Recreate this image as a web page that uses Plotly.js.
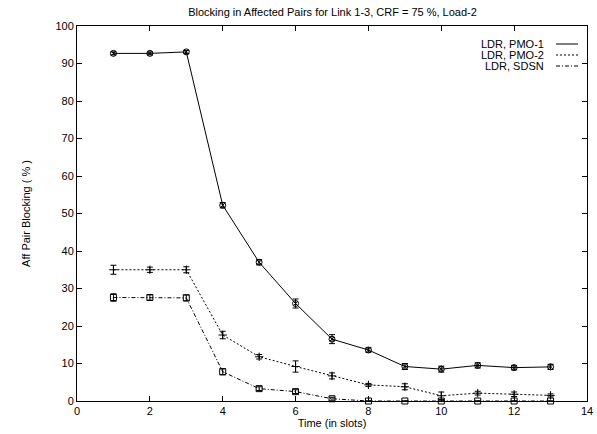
<!DOCTYPE html>
<html>
<head>
<meta charset="utf-8">
<script src="https://cdn.plot.ly/plotly-3.0.1.min.js"></script>
<style>html,body{margin:0;padding:0;background:#fff;}#chart{width:597px;height:434px;}</style>
</head>
<body>
<div id="chart"></div>
<script>
const time = [1,2,3,4,5,6,7,8,9,10,11,12,13];
const seriesNames = ["LDR, PMO-1", "LDR, PMO-2", "LDR, SDSN"];
const pmo1 = [92.7, 92.7, 93.1, 52.2, 37.0, 26.0, 16.5, 13.6, 9.2, 8.5, 9.5, 8.9, 9.1];
const pmo1Err = [0.4, 0.4, 0.4, 0.7, 0.7, 1.2, 1.2, 0.6, 0.8, 0.8, 0.7, 0.6, 0.7];
const pmo2 = [35.0, 35.0, 35.0, 17.6, 11.8, 9.2, 6.7, 4.3, 3.8, 1.4, 2.1, 1.8, 1.5];
const pmo2Err = [1.2, 0.7, 0.8, 1.0, 0.6, 1.5, 0.8, 0.4, 0.8, 1.0, 0.5, 0.6, 0.4];
const sdsn = [27.6, 27.6, 27.5, 7.8, 3.3, 2.5, 0.6, 0.0, 0.0, 0.0, 0.0, 0.0, 0.0];
const sdsnErr = [1.0, 0.7, 0.8, 0.8, 0.5, 0.5, 0.4, 0.0, 0.0, 0.0, 0.0, 0.0, 0.0];
const xTicks = [0,2,4,6,8,10,12,14];
const yTicks = [0,10,20,30,40,50,60,70,80,90,100];

const FONT = "Liberation Sans, Arial, Helvetica, sans-serif";
const dashes = ["solid", "2px,2px", "4px,2px,1px,2px"];
const symbols = ["circle-x-open", "cross-thin-open", "square-open"];
const ys = [pmo1, pmo2, sdsn];
const errs = [pmo1Err, pmo2Err, sdsnErr];

const traces = ys.map((y, i) => ({
  x: time, y: y, name: seriesNames[i], type: "scatter", mode: "lines+markers",
  line: {color: "#000", width: 1, dash: dashes[i]},
  marker: {symbol: symbols[i], size: 6, color: "#000", line: {color: "#000", width: 1}},
  error_y: {type: "data", array: errs[i], visible: true, color: "#000", thickness: 1, width: 3},
  showlegend: false, cliponaxis: false
}));

// custom gnuplot-style legend (text right, sample to the right)
const annotations = [];
const shapes = [];
const legY = [44, 55, 66];
seriesNames.forEach((n, i) => {
  const yp = 1 - (legY[i] - 26) / 375;
  annotations.push({xref: "paper", yref: "paper", x: (546 - 77) / 510, y: yp, text: n,
    showarrow: false, xanchor: "right", yanchor: "middle", font: {family: FONT, size: 11, color: "#000"}});
  shapes.push({type: "line", xref: "paper", yref: "paper", x0: (556 - 77) / 510, x1: (578 - 77) / 510,
    y0: yp, y1: yp, line: {color: "#000", width: 1, dash: dashes[i]}});
});

const axisCommon = {
  showgrid: false, zeroline: false, showline: true, linecolor: "#000", linewidth: 1,
  mirror: "allticks", ticks: "inside", ticklen: 5, tickcolor: "#000", tickwidth: 1,
  tickfont: {family: FONT, size: 11, color: "#000"}
};

const layout = {
  width: 597, height: 434,
  margin: {l: 77, r: 10, t: 26, b: 33},
  paper_bgcolor: "#fff", plot_bgcolor: "#fff",
  font: {family: FONT, size: 11, color: "#000"},
  title: {text: "Blocking in Affected Pairs for Link 1-3, CRF = 75 %, Load-2",
    font: {family: FONT, size: 11, color: "#000"}, x: 0.557, xanchor: "center", y: 0.972, yanchor: "middle"},
  xaxis: Object.assign({}, axisCommon, {range: [0, 14], tickvals: xTicks,
    title: {text: "Time (in slots)", font: {family: FONT, size: 11, color: "#000"}, standoff: 1}}),
  yaxis: Object.assign({}, axisCommon, {range: [0, 100], tickvals: yTicks,
    title: {text: "Aff Pair Blocking ( % )", font: {family: FONT, size: 11, color: "#000"}, standoff: 22}}),
  annotations: annotations, shapes: shapes, showlegend: false
};

Plotly.newPlot("chart", traces, layout, {staticPlot: true, displayModeBar: false});
</script>
</body>
</html>
